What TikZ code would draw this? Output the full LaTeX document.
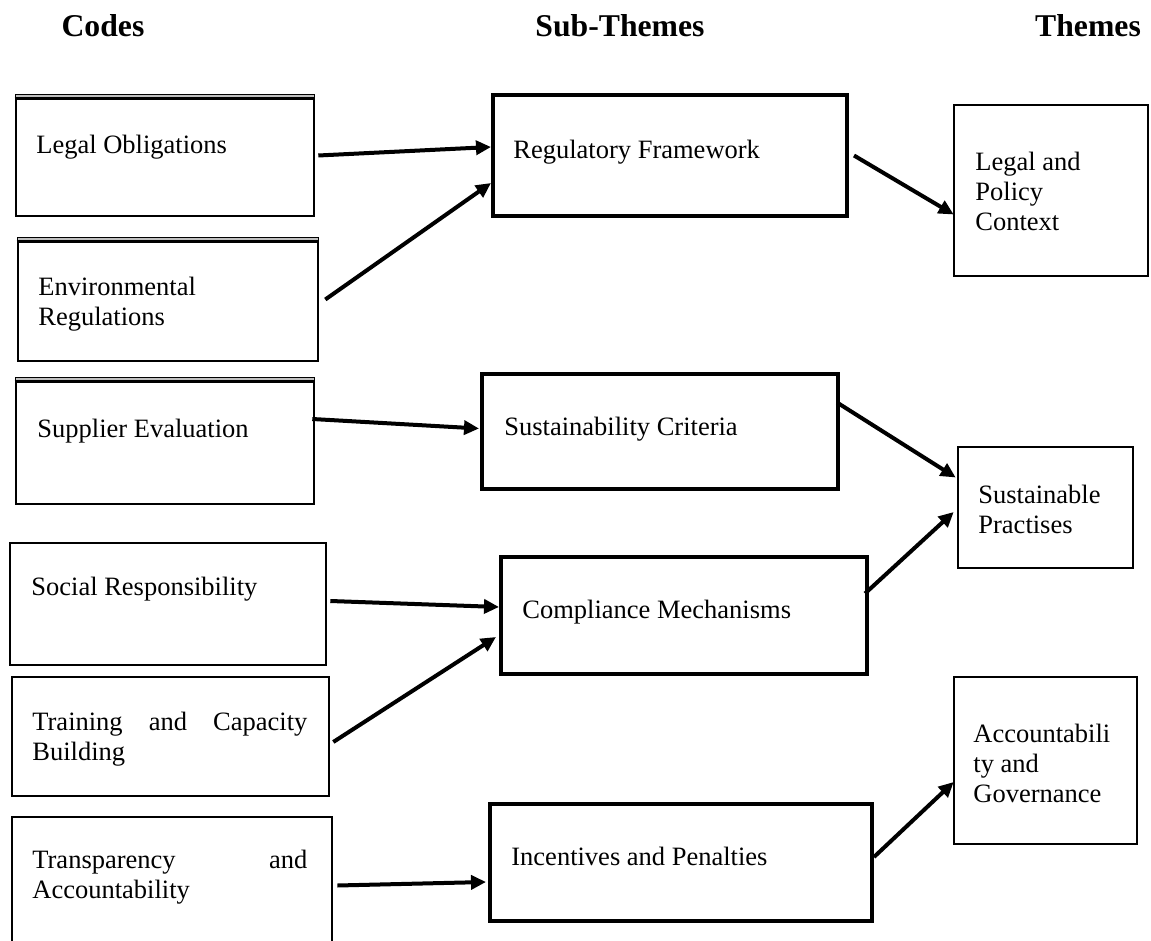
\documentclass[tikz,border=0pt]{standalone}
\usepackage{fontspec}
\setmainfont{Liberation Serif}
\usetikzlibrary{arrows.meta,calc,fit}
\begin{document}
\begin{tikzpicture}[x=0.5pt,y=-0.5pt,
  codebox/.style={draw, line width=1.3pt, inner sep=0pt},
  subbox/.style={draw, line width=2pt, inner sep=0pt},
  themebox/.style={draw, line width=1.3pt, inner sep=0pt},
  boxtext/.style={anchor=north west, inner sep=0pt, align=left,
    font=\fontsize{13.25}{15}\selectfont},
  head/.style={anchor=base, inner sep=0pt,
    font=\fontsize{15.85}{18}\selectfont\bfseries},
  arr/.style={-{Triangle[length=7.5pt,width=7pt]}, line width=2pt}]

\useasboundingbox (0,0) rectangle (1151,941);
\clip (0,0) rectangle (1151,941);

% column headings
\node[head] (hcodes) at (103,37) {Codes};
\node[head] (hsub)   at (620,37) {Sub-Themes};
\node[head] (hthm)   at (1088,37) {Themes};

% codes
\node[codebox, fit={(16,95) (314,216)}]  (lo) {};
\node[codebox, fit={(18,238) (318,361)}] (er) {};
\node[codebox, fit={(16,378) (314,504)}] (se) {};
\node[codebox, fit={(10,543) (326,665)}] (sr) {};
\node[codebox, fit={(12,677) (329,796)}] (tc) {};
\node[codebox, fit={(12,817) (332,980)}] (ta) {};

% double rule along the top of the first three code boxes
\foreach \n in {lo,er,se} {
  \fill[gray!50] ($(\n.north west)+(1.3,1.3)$) rectangle ($(\n.north east)+(-1.3,5)$);
  \draw[line width=1.3pt] ($(\n.north west)+(0,5)$) -- ($(\n.north east)+(0,5)$);
}

\node[boxtext] (tlo) at (36,135) {Legal Obligations};
\node[boxtext] (ter) at (38,277) {Environmental\\Regulations};
\node[boxtext] (tse) at (37,419) {Supplier Evaluation};
\node[boxtext] (tsr) at (31,577) {Social Responsibility};
\node[boxtext] (ttc) at (32,712) {\makebox[137.5pt][s]{Training and Capacity}\\Building};
\node[boxtext] (tta) at (32,850) {\makebox[137.5pt][s]{Transparency and}\\Accountability};

% sub-themes
\node[subbox, fit={(493,95) (847,216)}] (rf) {};
\node[subbox, fit={(482,374) (838,489)}] (sc) {};
\node[subbox, fit={(501,557) (867,674)}] (cm) {};
\node[subbox, fit={(490,804) (872,921)}] (ip) {};

\node[boxtext] (trf) at (513,140) {Regulatory Framework};
\node[boxtext] (tsc) at (504,417) {Sustainability Criteria};
\node[boxtext] (tcm) at (522,600) {Compliance Mechanisms};
\node[boxtext] (tip) at (511,847) {Incentives and Penalties};

% themes
\node[themebox, fit={(954,105) (1148,276)}] (lp) {};
\node[themebox, fit={(958,447) (1133,568)}] (sp) {};
\node[themebox, fit={(954,677) (1137,844)}] (ag) {};

\node[boxtext] (tlp) at (975,152) {Legal and\\Policy\\Context};
\node[boxtext] (tsp) at (978,485) {Sustainable\\Practises};
\node[boxtext] (tag) at (973,724) {Accountabili\\ty and\\Governance};

% connectors
\draw[arr] ($(lo.east)+(3,0)$)    -- ($(rf.west)+(0,-8.5)$);
\draw[arr] ($(er.east)+(6,0)$)    -- ($(rf.west)+(0,27.5)$);
\draw[arr] ($(rf.east)+(5,0)$)    -- ($(lp.west)+(1,24)$);
\draw[arr] ($(se.east)+(-3,-22)$) -- ($(sc.west)+(-1,-3)$);
\draw[arr] ($(sc.east)+(-3,-29)$) -- ($(sp.west)+(-1,-30)$);
\draw[arr] ($(sr.east)+(3,-3)$)   -- ($(cm.west)+(0,-8.5)$);
\draw[arr] ($(tc.east)+(3,5.5)$)  -- ($(cm.west)+(-3,21.5)$);
\draw[arr] ($(cm.east)+(-4,-22)$) -- ($(sp.west)+(-3,4.5)$);
\draw[arr] ($(ta.east)+(4,-13)$)  -- ($(ip.west)+(-2,19.5)$);
\draw[arr] ($(ip.east)+(0,-5.5)$) -- ($(ag.west)+(1,21.5)$);
\end{tikzpicture}
\end{document}
